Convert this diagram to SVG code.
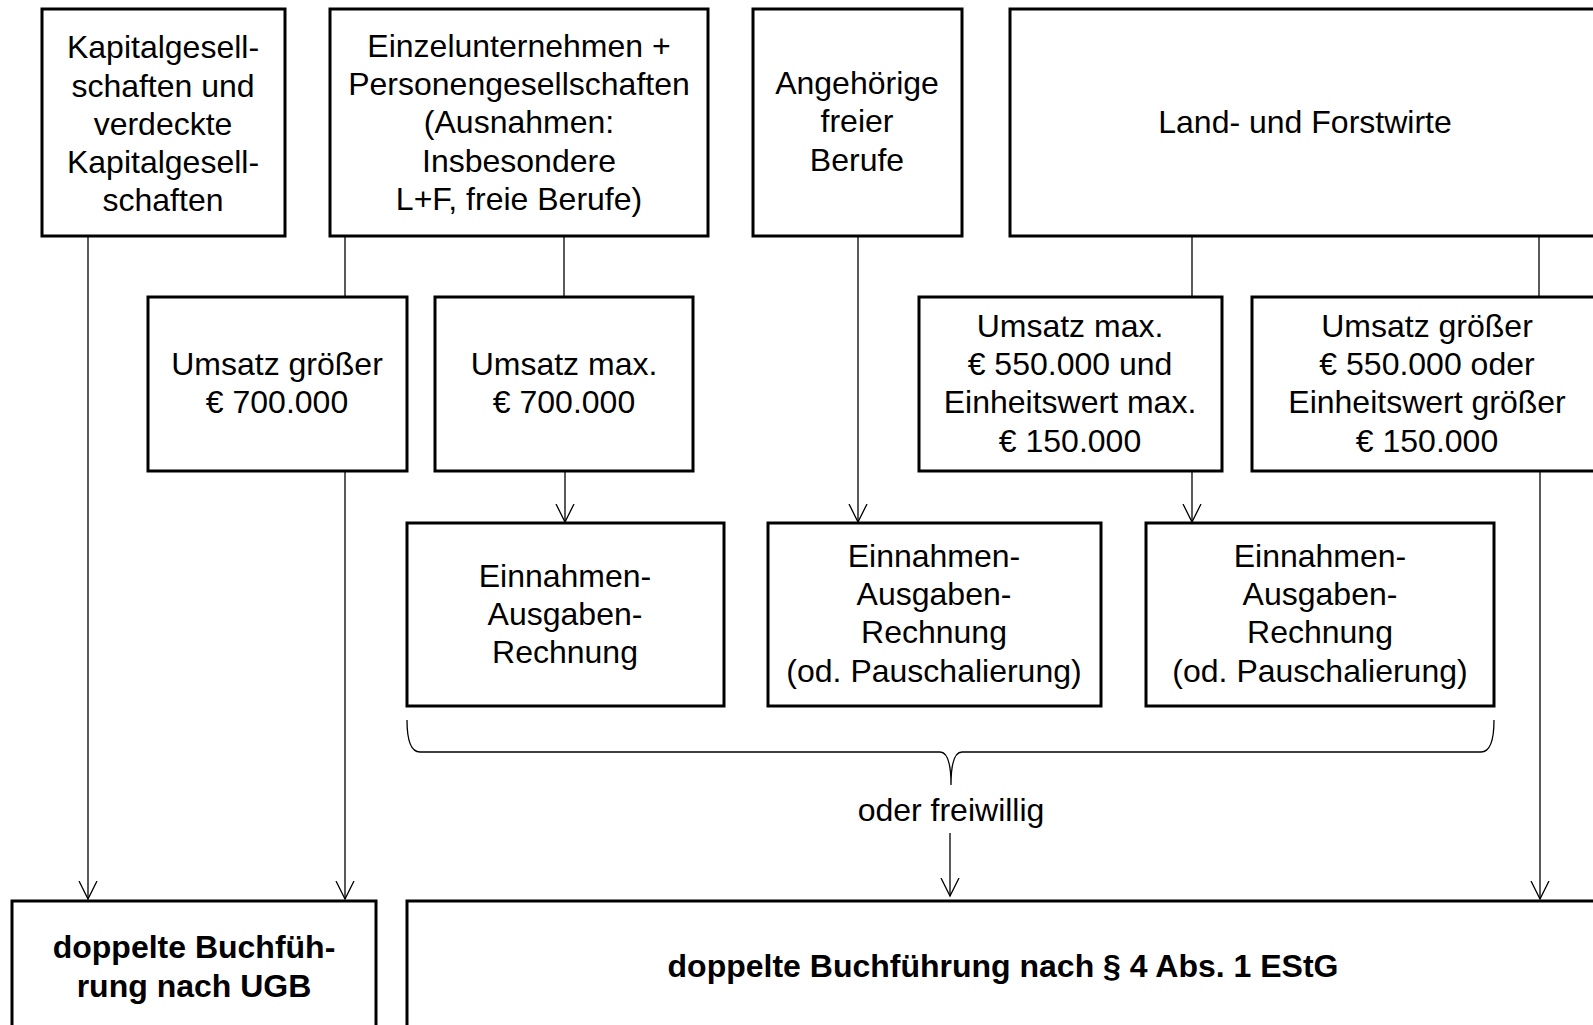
<svg xmlns="http://www.w3.org/2000/svg" width="1593" height="1025" viewBox="0 0 1593 1025">
<style>
.box{fill:#fff;stroke:#000;stroke-width:3}
.t{font-family:"Liberation Sans",Arial,sans-serif;font-size:32px;fill:#000;text-anchor:middle}
.b{font-family:"Liberation Sans",Arial,sans-serif;font-size:32px;font-weight:bold;fill:#000;text-anchor:middle}
.c{fill:none;stroke:#000;stroke-width:1.3}
</style>
<defs>
<marker id="arr" viewBox="0 0 20 20" refX="18" refY="10" markerWidth="20" markerHeight="20" markerUnits="userSpaceOnUse" orient="auto">
<path d="M0,1 L18,10 L0,19" fill="none" stroke="#000" stroke-width="1.3"/>
</marker>
</defs>
<rect width="1593" height="1025" fill="#fff"/>
<g id="connectors">
<line class="c" x1="88" y1="236" x2="88" y2="899" marker-end="url(#arr)"/>
<line class="c" x1="345" y1="236" x2="345" y2="296"/>
<line class="c" x1="564" y1="236" x2="564" y2="296"/>
<line class="c" x1="345" y1="471" x2="345" y2="899" marker-end="url(#arr)"/>
<line class="c" x1="565" y1="471" x2="565" y2="522" marker-end="url(#arr)"/>
<line class="c" x1="858" y1="236" x2="858" y2="522" marker-end="url(#arr)"/>
<line class="c" x1="1192" y1="236" x2="1192" y2="296"/>
<line class="c" x1="1539" y1="236" x2="1539" y2="296"/>
<line class="c" x1="1192" y1="471" x2="1192" y2="522" marker-end="url(#arr)"/>
<line class="c" x1="1540" y1="471" x2="1540" y2="899" marker-end="url(#arr)"/>
<path class="c" d="M407,720 Q407,752 420,752 L940,752 Q951,752 951,785 Q951,752 962,752 L1481,752 Q1494,752 1494,720"/>
<line class="c" x1="950" y1="833" x2="950" y2="896" marker-end="url(#arr)"/>
</g>
<g id="n-kapital">
<rect class="box" x="42" y="9" width="243" height="227"/>
<text class="t" x="163" y="58">Kapitalgesell-</text>
<text class="t" x="163" y="97">schaften und</text>
<text class="t" x="163" y="135">verdeckte</text>
<text class="t" x="163" y="173">Kapitalgesell-</text>
<text class="t" x="163" y="211">schaften</text>
</g>
<g id="n-einzel">
<rect class="box" x="330" y="9" width="378" height="227"/>
<text class="t" x="519" y="57">Einzelunternehmen +</text>
<text class="t" x="519" y="95">Personengesellschaften</text>
<text class="t" x="519" y="133">(Ausnahmen:</text>
<text class="t" x="519" y="172">Insbesondere</text>
<text class="t" x="519" y="210">L+F, freie Berufe)</text>
</g>
<g id="n-freie">
<rect class="box" x="753" y="9" width="209" height="227"/>
<text class="t" x="857" y="94">Angehörige</text>
<text class="t" x="857" y="132">freier</text>
<text class="t" x="857" y="171">Berufe</text>
</g>
<g id="n-luf">
<rect class="box" x="1010" y="9" width="600" height="227"/>
<text class="t" x="1305" y="133">Land- und Forstwirte</text>
</g>
<g id="n-umsatz-gr700">
<rect class="box" x="148" y="297" width="259" height="174"/>
<text class="t" x="277" y="375">Umsatz größer</text>
<text class="t" x="277" y="413">€ 700.000</text>
</g>
<g id="n-umsatz-max700">
<rect class="box" x="435" y="297" width="258" height="174"/>
<text class="t" x="564" y="375">Umsatz max.</text>
<text class="t" x="564" y="413">€ 700.000</text>
</g>
<g id="n-umsatz-max550">
<rect class="box" x="919" y="297" width="303" height="174"/>
<text class="t" x="1070" y="337">Umsatz max.</text>
<text class="t" x="1070" y="375">€ 550.000 und</text>
<text class="t" x="1070" y="413">Einheitswert max.</text>
<text class="t" x="1070" y="452">€ 150.000</text>
</g>
<g id="n-umsatz-gr550">
<rect class="box" x="1252" y="297" width="360" height="174"/>
<text class="t" x="1427" y="337">Umsatz größer</text>
<text class="t" x="1427" y="375">€ 550.000 oder</text>
<text class="t" x="1427" y="413">Einheitswert größer</text>
<text class="t" x="1427" y="452">€ 150.000</text>
</g>
<g id="n-ear1">
<rect class="box" x="407" y="523" width="317" height="183"/>
<text class="t" x="565" y="587">Einnahmen-</text>
<text class="t" x="565" y="625">Ausgaben-</text>
<text class="t" x="565" y="663">Rechnung</text>
</g>
<g id="n-ear2">
<rect class="box" x="768" y="523" width="333" height="183"/>
<text class="t" x="934" y="567">Einnahmen-</text>
<text class="t" x="934" y="605">Ausgaben-</text>
<text class="t" x="934" y="643">Rechnung</text>
<text class="t" x="934" y="682">(od. Pauschalierung)</text>
</g>
<g id="n-ear3">
<rect class="box" x="1146" y="523" width="348" height="183"/>
<text class="t" x="1320" y="567">Einnahmen-</text>
<text class="t" x="1320" y="605">Ausgaben-</text>
<text class="t" x="1320" y="643">Rechnung</text>
<text class="t" x="1320" y="682">(od. Pauschalierung)</text>
</g>
<g id="l-freiwillig">
<text class="t" x="951" y="821">oder freiwillig</text>
</g>
<g id="n-ugb">
<rect class="box" x="12" y="901" width="364" height="140"/>
<text class="b" x="194" y="958">doppelte Buchfüh-</text>
<text class="b" x="194" y="997">rung nach UGB</text>
</g>
<g id="n-estg">
<rect class="box" x="407" y="901" width="1200" height="140"/>
<text class="b" x="1003" y="977">doppelte Buchführung nach § 4 Abs. 1 EStG</text>
</g>
</svg>
